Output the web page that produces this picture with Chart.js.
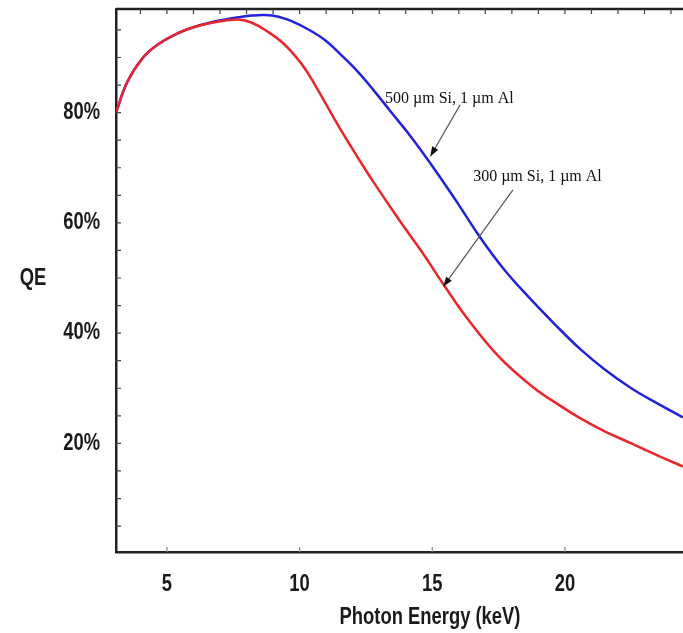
<!DOCTYPE html>
<html>
<head>
<meta charset="utf-8">
<script src="https://cdn.jsdelivr.net/npm/chart.js@4.4.1/dist/chart.umd.min.js"></script>
<style>
  body { margin: 0; background: #fff; }
  #wrap { width: 683px; height: 633px; position: relative; }
</style>
</head>
<body>
<div id="wrap"><canvas id="qeChart"></canvas></div>
<script>
// QE curves (keV, %)
const redEnergy = [3.08, 3.5, 4.1, 4.7, 5.4, 6.0, 6.6, 7.2, 7.7, 8.2, 8.7, 9.4, 10.0, 10.4, 11.0, 11.6, 12.2, 12.8, 13.8, 14.6, 15.4, 16.3, 17.5, 18.8, 19.8, 20.6, 21.5, 22.5, 23.5, 24.45];
const redQE = [80, 85.5, 90, 92.5, 94.4, 95.5, 96.2, 96.7, 96.9, 96.3, 95.0, 92.5, 89.3, 86.5, 81.5, 76.5, 71.8, 67.3, 60.2, 54.8, 49.0, 42.8, 35.8, 30.2, 26.9, 24.5, 22.2, 20.0, 17.8, 15.8];

const blueEnergy = [3.08, 3.5, 4.1, 4.7, 5.4, 6.0, 6.6, 7.2, 7.7, 8.2, 8.7, 9.2, 9.7, 10.4, 11.0, 11.6, 12.2, 12.8, 13.4, 14.2, 14.9, 15.9, 16.8, 17.7, 18.7, 19.6, 20.6, 21.5, 22.5, 23.5, 24.45];
const blueQE = [80, 85.5, 90, 92.5, 94.4, 95.5, 96.3, 96.9, 97.3, 97.6, 97.7, 97.4, 96.6, 94.9, 93.0, 90.3, 87.4, 84.0, 80.4, 75.6, 71.0, 64.0, 57.4, 51.6, 46.2, 41.7, 37.0, 33.4, 30.0, 27.2, 24.7];

const xTickValues = [5, 10, 15, 20];
const yTickValues = [20, 40, 60, 80];

// annotation labels: [text, label x, label y, arrow from x, from y, to x, to y] in data units
const notes = [
  ['500 \u00b5m Si, 1 \u00b5m Al', 13.22, 82.5, 16.05, 81.4, 14.92, 72.0],
  ['300 \u00b5m Si, 1 \u00b5m Al', 16.54, 68.3, 18.04, 66.0, 15.41, 48.4]
];

const labelFont = "bold 23px 'Liberation Sans', Arial, sans-serif";

function toPoints(xs, ys) {
  return xs.map((x, i) => ({ x: x, y: ys[i] }));
}

// narrow bold text like the original's condensed axis font
function narrowText(ctx, text, x, y, align) {
  ctx.save();
  ctx.translate(x, y);
  ctx.scale(0.8, 1);
  ctx.textAlign = align;
  ctx.textBaseline = 'middle';
  ctx.fillText(text, 0, 0);
  ctx.restore();
}

// inside ticks, top frame line, axis texts and the arrows
const extras = {
  id: 'extras',
  afterDatasetsDraw(chart) {
    const ctx = chart.ctx;
    const area = chart.chartArea;
    const xs = chart.scales.x;
    const ys = chart.scales.y;
    ctx.save();
    ctx.strokeStyle = '#222';
    ctx.lineWidth = 2.5;
    ctx.beginPath();
    ctx.moveTo(area.left, area.top);
    ctx.lineTo(area.right + 2, area.top);
    ctx.stroke();

    // top edge: a tick every keV; left edge: every 5 %
    ctx.lineWidth = 1.2;
    ctx.strokeStyle = '#444';
    ctx.beginPath();
    for (let k = 4; k <= 24; k++) {
      const px = xs.getPixelForValue(k);
      ctx.moveTo(px, area.top);
      ctx.lineTo(px, area.top + 5);
    }
    for (let q = 5; q <= 95; q += 5) {
      const py = ys.getPixelForValue(q);
      ctx.moveTo(area.left, py);
      ctx.lineTo(area.left + 5, py);
    }
    ctx.stroke();

    // bottom edge: faint ticks at the labelled values only
    ctx.strokeStyle = '#888';
    ctx.beginPath();
    xTickValues.forEach(v => {
      const px = xs.getPixelForValue(v);
      ctx.moveTo(px, area.bottom);
      ctx.lineTo(px, area.bottom - 5);
    });
    ctx.stroke();

    ctx.fillStyle = '#1a1a1a';
    ctx.font = labelFont;
    xTickValues.forEach(v => narrowText(ctx, String(v), xs.getPixelForValue(v), area.bottom + 33, 'center'));
    yTickValues.forEach(v => narrowText(ctx, v + '%', area.left - 16, ys.getPixelForValue(v), 'right'));
    narrowText(ctx, 'Photon Energy (keV)', 430, area.bottom + 66, 'center');
    narrowText(ctx, 'QE', 33, ys.getPixelForValue(49.8), 'center');

    notes.forEach(n => {
      const tx = xs.getPixelForValue(n[1]);
      const ty = ys.getPixelForValue(n[2]);
      ctx.font = "16px 'Liberation Serif', 'DejaVu Serif', serif";
      ctx.textAlign = 'left';
      ctx.textBaseline = 'middle';
      ctx.fillStyle = '#111';
      ctx.fillText(n[0], tx, ty);

      const x0 = xs.getPixelForValue(n[3]);
      const y0 = ys.getPixelForValue(n[4]);
      const x1 = xs.getPixelForValue(n[5]);
      const y1 = ys.getPixelForValue(n[6]);
      const ang = Math.atan2(y1 - y0, x1 - x0);
      ctx.strokeStyle = '#555';
      ctx.lineWidth = 1.2;
      ctx.beginPath();
      ctx.moveTo(x0, y0);
      ctx.lineTo(x1 - 6 * Math.cos(ang), y1 - 6 * Math.sin(ang));
      ctx.stroke();
      ctx.fillStyle = '#111';
      ctx.beginPath();
      ctx.moveTo(x1, y1);
      ctx.lineTo(x1 - 10 * Math.cos(ang) + 3.5 * Math.sin(ang), y1 - 10 * Math.sin(ang) - 3.5 * Math.cos(ang));
      ctx.lineTo(x1 - 10 * Math.cos(ang) - 3.5 * Math.sin(ang), y1 - 10 * Math.sin(ang) + 3.5 * Math.cos(ang));
      ctx.closePath();
      ctx.fill();
    });
    ctx.restore();
  }
};

const ctx = document.getElementById('qeChart').getContext('2d');
const qeChart = new Chart(ctx, {
  type: 'scatter',
  data: {
    datasets: [
      {
        label: '300 \u00b5m Si, 1 \u00b5m Al',
        data: toPoints(redEnergy, redQE),
        showLine: true,
        borderColor: '#e8262b',
        borderWidth: 2.5,
        pointRadius: 0,
        tension: 0.4
      },
      {
        label: '500 \u00b5m Si, 1 \u00b5m Al',
        data: toPoints(blueEnergy, blueQE),
        showLine: true,
        borderColor: '#2222dd',
        borderWidth: 2.5,
        pointRadius: 0,
        tension: 0.4
      }
    ]
  },
  options: {
    responsive: true,
    maintainAspectRatio: false,
    animation: false,
    layout: { padding: { top: 9, right: 0, left: 0, bottom: 0 } },
    plugins: {
      legend: { display: false },
      tooltip: { enabled: false }
    },
    scales: {
      x: {
        type: 'linear',
        min: 3.08,
        max: 24.45,
        afterBuildTicks: s => { s.ticks = xTickValues.map(v => ({ value: v })); },
        afterFit: s => { s.height = 81; s.paddingLeft = 0; s.paddingRight = 0; },
        grid: { display: false, drawTicks: false },
        border: { display: true, color: '#222', width: 2.5 },
        ticks: { display: false }
      },
      y: {
        type: 'linear',
        min: 0.3,
        max: 98.8,
        afterBuildTicks: s => { s.ticks = yTickValues.map(v => ({ value: v })); },
        afterFit: s => { s.width = 116; s.paddingTop = 0; s.paddingBottom = 0; },
        grid: { display: false, drawTicks: false },
        border: { display: true, color: '#222', width: 2.5 },
        ticks: { display: false }
      }
    }
  },
  plugins: [extras]
});
</script>
</body>
</html>
